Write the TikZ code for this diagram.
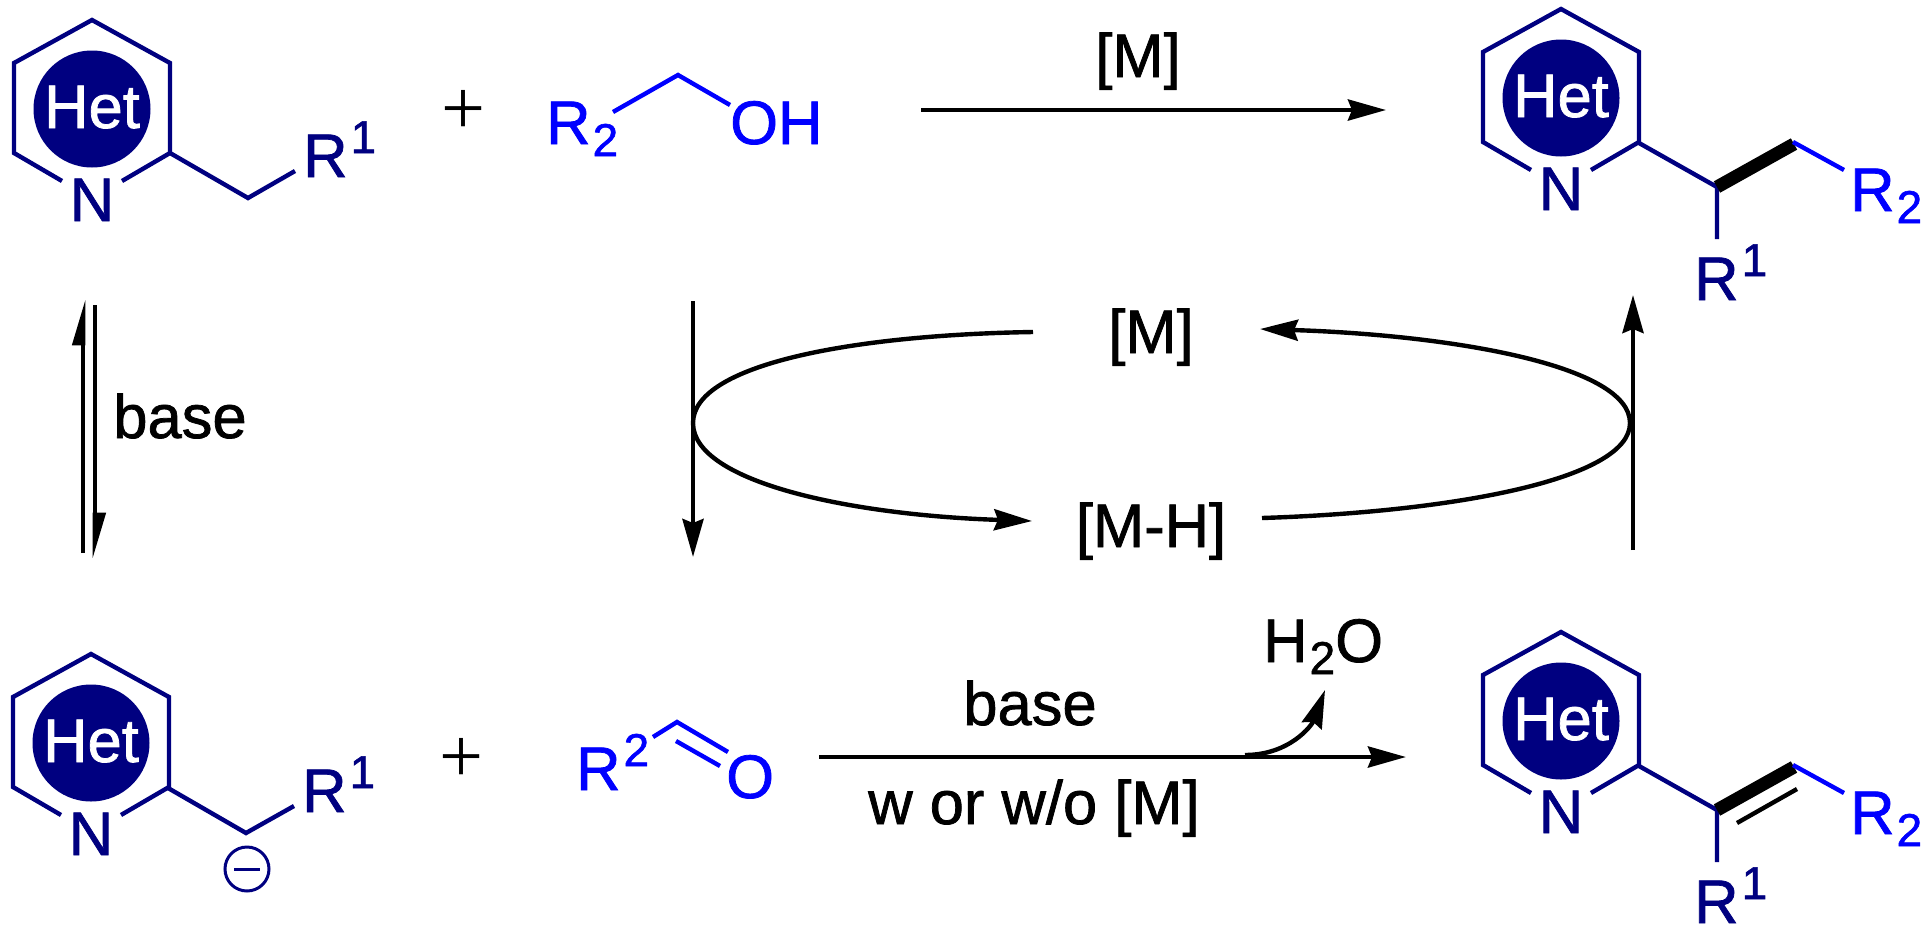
\documentclass[tikz,border=0pt]{standalone}
\usepackage{fontspec}
\setsansfont{Liberation Sans}[RawFeature={embolden=1.2}]
\newfontfamily\plusfont{Liberation Serif}
\usetikzlibrary{arrows.meta}
\definecolor{hetnavy}{HTML}{000080}
\definecolor{addblue}{HTML}{0000FF}
\newcommand{\sbig}{\fontsize{46}{46}\selectfont}
\newcommand{\supnum}[1]{\kern3pt\raisebox{24pt}{\sbig #1}}
\newcommand{\subnum}[1]{\kern2pt\raisebox{-12pt}{\sbig #1}}
\tikzset{
  chem/.style={font=\sffamily\fontsize{61.5}{61.5}\selectfont,inner sep=0pt},
  plussign/.style={font=\plusfont\fontsize{78}{78}\selectfont,inner sep=0pt},
  bond/.style={line width=4.4pt,hetnavy,line join=miter},
  addbond/.style={line width=4.4pt,addblue},
  rxn/.style={line width=4.4pt,-{Stealth[length=38pt,width=21pt,inset=4pt]}},
  harp/.style={line width=4.6pt,-{Stealth[length=38pt,width=21pt,inset=0pt,left]}},
}
\begin{document}
\begin{tikzpicture}[x=1pt,y=-1pt]
  \useasboundingbox (0,0) rectangle (1931,935);
  % the four rings
  \foreach \n/\px/\py in {a/92/20,b/91/654,c/1561/9,d/1561/632}{
    \begin{scope}[shift={(\px,\py)}]
      \draw [bond] (-30,161) -- (-78,133) -- (-78,43) -- (0,0) -- (78,43) -- (78,133) -- (30,161);
      \node [circle,fill=hetnavy,minimum size=117pt,inner sep=0pt] (disc\n) at (0,89) {};
      \node [chem,white,anchor=base] (het\n) at (0,108) {Het};
      \node [chem,hetnavy,anchor=base] (nit\n) at (0,201) {N};
    \end{scope}
  }
  % left column
  \coordinate (cha) at (248,198);
  \draw [bond] (170,153) -- (cha) -- (295,171);
  \node [chem,hetnavy,anchor=base west] (rone) at (303,177) {R\supnum{1}};
  \node [plussign] (plusa) at (463,112) {+};
  \coordinate (chb) at (246,833);
  \draw [bond] (168,788) -- (chb) -- (294,806);
  \node [chem,hetnavy,anchor=base west] (rtwo) at (302,812) {R\supnum{1}};
  \node [circle,draw=hetnavy,line width=3pt,minimum size=44pt,inner sep=0pt,text=hetnavy] (minus) at (247,869) {\rule{26pt}{3pt}};
  \node [plussign] (plusb) at (461,760) {+};
  \coordinate (equpa) at (83,553);
  \coordinate (equpb) at (83,299);
  \coordinate (eqdna) at (95,305);
  \coordinate (eqdnb) at (95,559);
  \draw [harp] (equpa) -- (equpb);
  \draw [harp] (eqdna) -- (eqdnb);
  \node [chem,anchor=base] (basea) at (180,438) {base};
  % alcohol and aldehyde
  \node [chem,addblue,anchor=base west] (rala) at (546,144) {R\subnum{2}};
  \node [chem,addblue,anchor=base west] (oh) at (730,144) {OH};
  \coordinate (cal) at (678,75);
  \draw [addbond] (613,112) -- (cal) -- (730,105);
  \node [chem,addblue,anchor=base west] (ralb) at (576,790) {R\supnum{2}};
  \node [chem,addblue,anchor=base west] (oxy) at (726,798) {O};
  \coordinate (cald) at (677,722);
  \draw [addbond] (653,737) -- (cald) -- (728,752);
  \draw [addbond] (676,741) -- (720,766);
  % right column, alkane
  \coordinate (chc) at (1717,187);
  \coordinate (chd) at (1794,144);
  \draw [bond] (1639,143) -- (chc) -- (1717,239);
  \draw [line width=13pt] (chc) -- (chd);
  \draw [addbond] (1793,142) -- (1844,170);
  \node [chem,hetnavy,anchor=base west] (rthr) at (1694,300) {R\supnum{1}};
  \node [chem,addblue,anchor=base west] (ralc) at (1850,211) {R\subnum{2}};
  % right column, alkene
  \coordinate (che) at (1717,810);
  \coordinate (chf) at (1794,767);
  \draw [bond] (1639,766) -- (che) -- (1717,862);
  \draw [line width=13pt] (che) -- (chf);
  \draw [line width=4.4pt] (1737,823) -- (1797,789);
  \draw [addbond] (1793,765) -- (1844,793);
  \node [chem,hetnavy,anchor=base west] (rfou) at (1694,923) {R\supnum{1}};
  \node [chem,addblue,anchor=base west] (rald) at (1850,834) {R\subnum{2}};
  % top and bottom reactions
  \node [chem,anchor=base] (meta) at (1138,77) {[M]};
  \coordinate (toparra) at (921,110);
  \coordinate (toparrb) at (1386,110);
  \draw [rxn] (toparra) -- (toparrb);
  \node [chem,anchor=base] (baseb) at (1030,725) {base};
  \node [chem,anchor=base] (cond) at (1034,824) {w or w/o [M]};
  \node [chem,anchor=base west] (water) at (1263,662) {H\subnum{2}O};
  \coordinate (botarra) at (819,757);
  \coordinate (botarrb) at (1406,757);
  \coordinate (lossa) at (1245,755);
  \coordinate (lossb) at (1325,690);
  \draw [rxn] (botarra) -- (botarrb);
  \draw [rxn] (lossa) .. controls (1290,755) and (1312,725) .. (lossb);
  % the cycle
  \node [chem,anchor=base] (metb) at (1151,353) {[M]};
  \node [chem,anchor=base] (mhyd) at (1151,547) {[M-H]};
  \coordinate (downa) at (693,301);
  \coordinate (downb) at (693,557);
  \coordinate (upa) at (1633,550);
  \coordinate (upb) at (1633,295);
  \draw [rxn] (downa) -- (downb);
  \draw [rxn] (upa) -- (upb);
  \draw [rxn] (1033,332) .. controls (850,335) and (693,365) .. (693,423)
    .. controls (693,482) and (850,515) .. (1032,521);
  \draw [rxn] (1262,518) .. controls (1450,512) and (1630,480) .. (1630,423)
    .. controls (1630,365) and (1450,335) .. (1260,329);
\end{tikzpicture}
\end{document}
